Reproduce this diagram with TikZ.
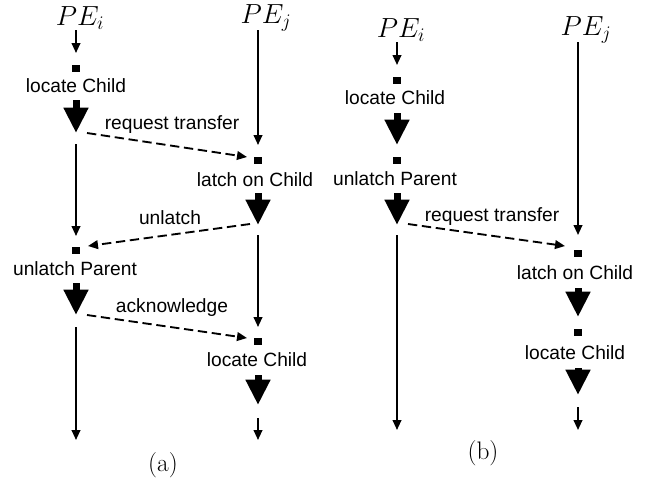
\documentclass[tikz,border=0pt]{standalone}
\usepackage{fontspec}
\setsansfont{Liberation Sans}
\usetikzlibrary{arrows.meta}
\begin{document}
\begin{tikzpicture}[x=0.75pt,y=-0.75pt,
  thin arrow/.style={line width=1.4pt,-{Triangle[width=6.5pt,length=7.5pt]}},
  msg/.style={thin arrow,dash pattern=on 7pt off 3.5pt},
  bigarrow/.style={line width=5.25pt,-{Triangle[width=17.5pt,length=19pt]}},
  sq/.style={fill=black,inner sep=0pt,minimum width=5.5pt,minimum height=5.25pt},
  lbl/.style={font=\sffamily\fontsize{14.4}{16}\selectfont,inner sep=1pt},
  pe/.style={font=\fontsize{21}{24}\selectfont,inner sep=0pt},
  subcap/.style={font=\fontsize{19}{22}\selectfont,inner sep=0pt}]
\useasboundingbox (0,0) rectangle (645,480);

% ---------- (a) ----------
\node[pe] (apei) at (80,18) {$PE_i$};
\node[pe] (apej) at (266,18) {$PE_j$};

% process i
\coordinate (ai0) at (76,30);
\coordinate (ai0e) at (76,53);
\node[sq] (asq1) at (76,68) {};
\node[lbl] (aloc) at (76,86) {locate Child};
\coordinate (ai1) at (76,100);
\coordinate (ai2) at (76,133);
\coordinate (ai3) at (76,144);
\coordinate (ai3e) at (76,236);
\node[sq] (asq2) at (76,250) {};
\node[lbl] (aunl) at (75,269) {unlatch Parent};
\coordinate (ai4) at (76,283);
\coordinate (ai5) at (76,315);
\coordinate (ai6) at (76,327);
\coordinate (ai7) at (76,440);

% process j
\coordinate (aj0) at (258,30);
\coordinate (aj0e) at (258,145);
\node[sq] (asq3) at (258,160) {};
\node[lbl] (alat) at (255,180) {latch on Child};
\coordinate (aj1) at (258,193);
\coordinate (aj2) at (258,225);
\coordinate (aj3) at (258,235);
\coordinate (aj3e) at (258,327);
\node[sq] (asq4) at (258,341) {};
\node[lbl] (aloc2) at (257,360) {locate Child};
\coordinate (aj4) at (258,375);
\coordinate (aj5) at (258,405);
\coordinate (aj6) at (258,418);
\coordinate (aj7) at (258,440);

\draw[thin arrow] (ai0) -- (ai0e);
\draw[bigarrow] (ai1) -- (ai2);
\draw[thin arrow] (ai3) -- (ai3e);
\draw[bigarrow] (ai4) -- (ai5);
\draw[thin arrow] (ai6) -- (ai7);

\draw[thin arrow] (aj0) -- (aj0e);
\draw[bigarrow] (aj1) -- (aj2);
\draw[thin arrow] (aj3) -- (aj3e);
\draw[bigarrow] (aj4) -- (aj5);
\draw[thin arrow] (aj6) -- (aj7);

% messages
\coordinate (am1s) at (87,133);  \coordinate (am1e) at (247,157);
\coordinate (am2s) at (250,224); \coordinate (am2e) at (88,246);
\coordinate (am3s) at (87,315);  \coordinate (am3e) at (247,338);
\draw[msg] (am1s) -- (am1e);
\draw[msg] (am2s) -- (am2e);
\draw[msg] (am3s) -- (am3e);

\node[lbl] (areq) at (172,125) {request transfer};
\node[lbl] (aunm) at (170,218) {unlatch};
\node[lbl] (aack) at (172,308) {acknowledge};

\node[subcap] (capa) at (163,465) {(a)};

% ---------- (b) ----------
\node[pe] (bpei) at (401,30) {$PE_i$};
\node[pe] (bpej) at (586,30) {$PE_j$};

% process i
\coordinate (bi0) at (397,42);
\coordinate (bi0e) at (397,65);
\node[sq] (bsq1) at (397,80) {};
\node[lbl] (bloc) at (395,98) {locate Child};
\coordinate (bi1) at (397,113);
\coordinate (bi2) at (397,145);
\node[sq] (bsq2) at (397,160) {};
\node[lbl] (bunl) at (395,179) {unlatch Parent};
\coordinate (bi3) at (397,193);
\coordinate (bi4) at (397,225);
\coordinate (bi5) at (397,235);
\coordinate (bi6) at (397,430);

% process j
\coordinate (bj0) at (578,42);
\coordinate (bj0e) at (578,235);
\node[sq] (bsq3) at (578,253) {};
\node[lbl] (blat) at (575,273) {latch on Child};
\coordinate (bj1) at (578,288);
\coordinate (bj2) at (578,317);
\node[sq] (bsq4) at (578,332) {};
\node[lbl] (bloc2) at (575,353) {locate Child};
\coordinate (bj3) at (578,368);
\coordinate (bj4) at (578,395);
\coordinate (bj5) at (578,407);
\coordinate (bj6) at (578,430);

\draw[thin arrow] (bi0) -- (bi0e);
\draw[bigarrow] (bi1) -- (bi2);
\draw[bigarrow] (bi3) -- (bi4);
\draw[thin arrow] (bi5) -- (bi6);

\draw[thin arrow] (bj0) -- (bj0e);
\draw[bigarrow] (bj1) -- (bj2);
\draw[bigarrow] (bj3) -- (bj4);
\draw[thin arrow] (bj5) -- (bj6);

\coordinate (bm1s) at (408,224); \coordinate (bm1e) at (565,246);
\draw[msg] (bm1s) -- (bm1e);

\node[lbl] (breq) at (492,217) {request transfer};

\node[subcap] (capb) at (483,453) {(b)};
\end{tikzpicture}
\end{document}
